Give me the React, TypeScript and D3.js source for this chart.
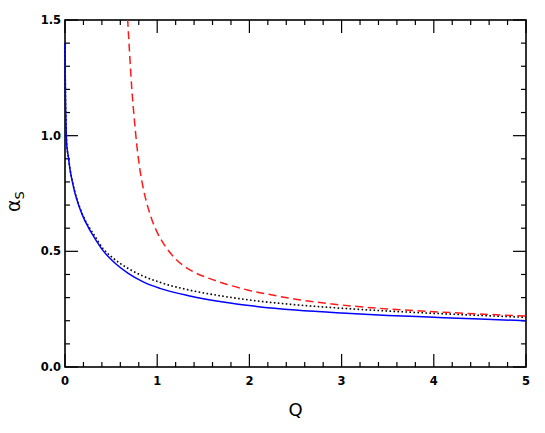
import React from "react";
import * as d3 from "d3";

const blueQ = [0, 0.005, 0.01, 0.018, 0.036, 0.054, 0.083, 0.108, 0.144, 0.198, 0.253, 0.307, 0.415, 0.523, 0.686, 0.848, 1.029, 1.354, 1.715, 2.077, 2.5, 3.0, 3.5, 4.0, 4.5, 5.0];
const blueA = [1.4, 1.17, 1.07, 0.965, 0.91, 0.855, 0.795, 0.752, 0.705, 0.648, 0.604, 0.567, 0.502, 0.456, 0.405, 0.368, 0.34, 0.307, 0.281, 0.262, 0.246, 0.233, 0.223, 0.215, 0.207, 0.2];

const blackQ = [0, 0.005, 0.01, 0.018, 0.036, 0.054, 0.083, 0.108, 0.144, 0.198, 0.253, 0.307, 0.415, 0.523, 0.686, 0.848, 1.029, 1.354, 1.715, 2.077, 2.5, 3.0, 3.5, 4.0, 4.5, 5.0];
const blackA = [1.4, 1.17, 1.07, 0.965, 0.91, 0.856, 0.797, 0.755, 0.708, 0.652, 0.61, 0.576, 0.511, 0.47, 0.426, 0.393, 0.366, 0.332, 0.306, 0.286, 0.269, 0.254, 0.242, 0.232, 0.223, 0.215];

const redQ = [0.672, 0.68, 0.7, 0.725, 0.75, 0.78, 0.81, 0.85, 0.9, 0.95, 1.0, 1.1, 1.2, 1.3, 1.4, 1.55, 1.75, 2.0, 2.25, 2.5, 3.0, 3.5, 4.0, 4.5, 5.0];
const redA = [1.56, 1.5, 1.36, 1.2, 1.08, 0.955, 0.86, 0.77, 0.69, 0.628, 0.582, 0.515, 0.467, 0.434, 0.41, 0.385, 0.358, 0.331, 0.311, 0.293, 0.268, 0.251, 0.239, 0.229, 0.22];

const xMajor = [0, 1, 2, 3, 4, 5];
const yMajor = [0, 0.5, 1.0, 1.5];

const W = 545, H = 433;
const left = 65, right = 526, top = 20, bottom = 367;

export default function App() {
  const x = d3.scaleLinear().domain([0, 5]).range([left, right]);
  const y = d3.scaleLinear().domain([0, 1.5]).range([bottom, top]);

  const line = d3.line<[number, number]>()
    .x(d => x(d[0]))
    .y(d => y(d[1]))
    .curve(d3.curveMonotoneX);

  const zip = (q: number[], a: number[]) => q.map((v, i) => [v, a[i]] as [number, number]);

  const xMinor = d3.range(0, 5.0001, 0.2).filter(v => Math.abs(v - Math.round(v)) > 1e-6);
  const yMinor = d3.range(0, 1.5001, 0.1).filter(v => Math.abs(v * 2 - Math.round(v * 2)) > 1e-6);

  const major = 13, minor = 5;
  const tickFont = { fontFamily: "DejaVu Sans", fontSize: 11.5, fontWeight: "bold" as const };

  return (
    <svg width={W} height={H} style={{ position: "absolute", left: 0, top: 0, background: "#fff" }}>
      <defs>
        <clipPath id="plot">
          <rect x={left - 2} y={top} width={right - left + 2} height={bottom - top} />
        </clipPath>
      </defs>

      {/* ticks on all four sides, pointing in */}
      <g stroke="#000" strokeWidth={1.2}>
        {xMajor.map(v => (
          <g key={"xM" + v}>
            <line x1={x(v)} x2={x(v)} y1={bottom} y2={bottom - major} />
            <line x1={x(v)} x2={x(v)} y1={top} y2={top + major} />
          </g>
        ))}
        {xMinor.map(v => (
          <g key={"xm" + v}>
            <line x1={x(v)} x2={x(v)} y1={bottom} y2={bottom - minor} />
            <line x1={x(v)} x2={x(v)} y1={top} y2={top + minor} />
          </g>
        ))}
        {yMajor.map(v => (
          <g key={"yM" + v}>
            <line x1={left} x2={left + major} y1={y(v)} y2={y(v)} />
            <line x1={right} x2={right - major} y1={y(v)} y2={y(v)} />
          </g>
        ))}
        {yMinor.map(v => (
          <g key={"ym" + v}>
            <line x1={left} x2={left + minor} y1={y(v)} y2={y(v)} />
            <line x1={right} x2={right - minor} y1={y(v)} y2={y(v)} />
          </g>
        ))}
      </g>

      <rect x={left} y={top} width={right - left} height={bottom - top} fill="none" stroke="#000" strokeWidth={1.6} />

      <g clipPath="url(#plot)" fill="none">
        <path d={line(zip(blackQ, blackA)) || ""} stroke="#000" strokeWidth={1.6} strokeDasharray="1.6,2.4" />
        <path d={line(zip(redQ, redA)) || ""} stroke="#ff1a1a" strokeWidth={1.5} strokeDasharray="8,4.5" />
        <path d={line(zip(blueQ, blueA)) || ""} stroke="#0000ff" strokeWidth={1.5} />
      </g>

      {xMajor.map(v => (
        <text key={"xl" + v} x={x(v)} y={bottom + 18} textAnchor="middle" {...tickFont}>{v}</text>
      ))}
      {yMajor.map(v => (
        <text key={"yl" + v} x={left - 4} y={y(v) + 4} textAnchor="end" {...tickFont}>{v.toFixed(1)}</text>
      ))}

      <text x={(left + right) / 2} y={416} textAnchor="middle" fontFamily="DejaVu Sans" fontSize={18}>Q</text>
      <text transform={`translate(20,${(top + bottom) / 2 + 8}) rotate(-90)`} textAnchor="middle" fontFamily="DejaVu Sans" fontSize={19}>
        α<tspan fontSize={13} dy={4}>S</tspan>
      </text>
    </svg>
  );
}
